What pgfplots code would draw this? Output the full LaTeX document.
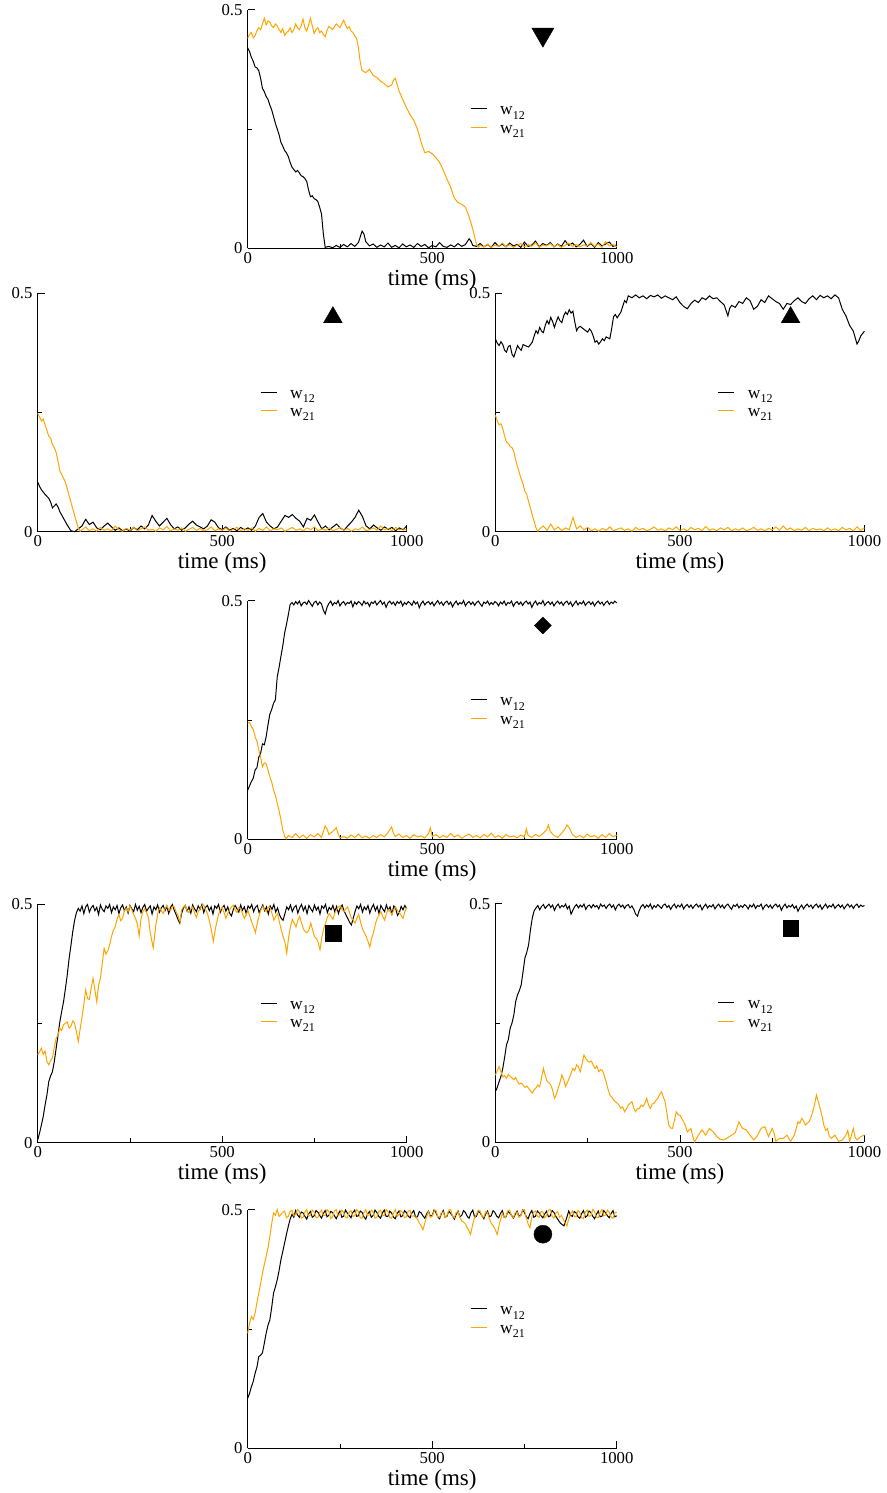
\documentclass[border=0pt]{standalone}
\usepackage{fontspec}
\setmainfont{Liberation Serif}
\usepackage{pgfplots}
\pgfplotsset{compat=1.18}
\definecolor{gorange}{RGB}{255,165,0}
\newcommand\sub[1]{\raisebox{-4.3pt}{\fontsize{12}{12}\selectfont #1}}
\pgfplotsset{
 panel/.style={
  scale only axis, width=369pt, height=238.7pt,
  xmin=0, xmax=1000, ymin=0, ymax=0.5,
  axis lines=left, axis line style={-, line width=1.2pt},
  xtick={0,500,1000}, xticklabels={0,500,1000},
  ytick={0,0.5}, yticklabels={0,0.5},
  minor xtick={250,750}, minor ytick={0.25},
  tick align=inside, major tick length=7pt, minor tick length=4.5pt,
  tick style={line width=0.8pt, black},
  every tick label/.append style={font=\fontsize{16.7}{16.7}\selectfont},
  xticklabel style={anchor=center, inner sep=0pt, yshift=-9.3pt},
  yticklabel style={anchor=east, inner sep=0pt, xshift=-5pt},
  xlabel={time (ms)},
  xlabel style={at={(axis description cs:0.5,0)}, anchor=base, inner sep=0pt, yshift=-36.8pt, font=\fontsize{23}{23}\selectfont},
  clip=false,
  legend style={draw=none, fill=none, at={(0.603,0.6226)}, anchor=north west, inner sep=0pt, outer sep=0pt, row sep=0pt, column sep=13pt, font=\fontsize{17.5}{17.5}\selectfont, nodes={inner sep=0pt, text height=15.2pt, text depth=3.1pt}, cells={anchor=west}},
  legend image code/.code={\draw[##1, line width=1pt] (0pt,0pt) -- (16pt,0pt);},
 },
 k/.style={black, line width=1pt},
 o/.style={gorange, line width=1pt},
 mk/.style={only marks, black, mark options={fill=black, draw=black}, forget plot},
}
\begin{document}
\begin{tikzpicture}
\path[use as bounding box] (0,0) rectangle (886pt,-1493pt);
% ---------------- Panel 1
\begin{axis}[panel, at={(247.7pt,-248.3pt)}, anchor=south west]
\addplot[k] coordinates {(0,.420)(5,.412)(10,.400)(15,.392)(20,.380)(25,.378)(30,.372)(35,.356)(40,.335)(45,.328)(50,.318)(55,.312)(60,.300)(65,.290)(70,.276)(75,.262)(80,.250)(85,.238)(90,.222)(95,.214)(100,.205)(105,.200)(110,.192)(115,.180)(120,.170)(125,.165)(130,.160)(135,.163)(140,.158)(145,.152)(150,.150)(155,.146)(160,.140)(165,.122)(170,.108)(175,.110)(180,.104)(185,.102)(190,.098)(195,.086)(200,.072)(205,.030)(210,.002)(220,.004)(230,.001)(240,.006)(250,.002)(260,.008)(270,.003)(280,.010)(290,.004)(300,.012)(310,.036)(315,.030)(320,.014)(330,.005)(340,.009)(350,.002)(360,.007)(370,.003)(380,.011)(390,.002)(400,.006)(410,.001)(420,.009)(430,.003)(440,.007)(450,.002)(460,.010)(470,.004)(480,.008)(490,.001)(500,.006)(510,.003)(520,.012)(530,.004)(540,.002)(550,.007)(560,.003)(570,.010)(580,.004)(590,.008)(600,.020)(605,.015)(610,.006)(620,.004)(630,.010)(640,.003)(650,.008)(660,.002)(670,.012)(680,.004)(690,.009)(700,.003)(710,.011)(720,.005)(730,.008)(740,.002)(750,.013)(760,.004)(770,.007)(780,.015)(790,.003)(800,.010)(810,.006)(820,.012)(830,.003)(840,.009)(850,.004)(860,.016)(870,.006)(880,.011)(890,.003)(900,.008)(910,.017)(920,.004)(930,.010)(940,.002)(950,.012)(960,.005)(970,.009)(980,.013)(990,.004)(1000,.007)};
\addlegendentry{w\sub{12}}
\addplot[o] coordinates {(0,.440)(5,.448)(10,.452)(15,.441)(20,.445)(25,.456)(30,.462)(35,.458)(40,.470)(45,.482)(50,.468)(55,.476)(60,.474)(65,.466)(70,.462)(75,.470)(80,.466)(85,.458)(90,.452)(95,.460)(100,.446)(105,.452)(110,.455)(115,.462)(120,.452)(125,.458)(130,.470)(135,.462)(140,.458)(145,.466)(150,.480)(155,.462)(160,.455)(165,.468)(170,.482)(175,.466)(180,.450)(185,.458)(190,.462)(195,.452)(200,.455)(205,.448)(210,.443)(215,.456)(220,.465)(225,.462)(230,.458)(235,.464)(240,.470)(245,.466)(250,.462)(255,.470)(260,.478)(265,.468)(270,.460)(275,.464)(280,.455)(285,.452)(290,.445)(295,.440)(300,.420)(305,.390)(310,.372)(320,.368)(330,.375)(340,.362)(350,.358)(360,.350)(370,.345)(380,.338)(390,.342)(395,.352)(400,.356)(410,.330)(420,.312)(430,.295)(440,.280)(450,.268)(460,.250)(470,.222)(480,.200)(490,.203)(500,.198)(510,.190)(520,.180)(530,.164)(540,.145)(550,.128)(560,.105)(570,.096)(580,.092)(590,.086)(600,.066)(610,.040)(620,.008)(625,.002)(630,.006)(640,.003)(650,.009)(660,.002)(670,.007)(680,.004)(690,.011)(700,.003)(710,.008)(720,.002)(730,.006)(740,.010)(750,.003)(760,.008)(770,.004)(780,.012)(790,.002)(800,.007)(810,.005)(820,.010)(830,.003)(840,.008)(850,.002)(860,.006)(870,.011)(880,.004)(890,.008)(900,.003)(910,.007)(920,.005)(930,.012)(940,.004)(950,.009)(960,.002)(970,.014)(980,.005)(990,.008)(1000,.003)};
\addlegendentry{w\sub{21}}
\addplot[mk, mark=triangle*, mark size=12.8pt, mark options={rotate=180}] coordinates {(800,.448)};
\end{axis}
% ---------------- Panel 2
\begin{axis}[panel, at={(37.7pt,-531.7pt)}, anchor=south west]
\addplot[k] coordinates {(0,.104)(5,.095)(10,.088)(20,.078)(30,.070)(35,.062)(40,.050)(50,.058)(55,.052)(60,.042)(70,.028)(80,.014)(90,.002)(100,.000)(110,.006)(120,.012)(130,.026)(140,.015)(150,.020)(160,.008)(170,.004)(180,.012)(190,.018)(200,.010)(210,.003)(220,.008)(230,.002)(240,.006)(250,.001)(260,.009)(270,.004)(280,.012)(290,.006)(300,.014)(310,.034)(320,.022)(330,.012)(340,.020)(350,.028)(360,.015)(370,.006)(380,.010)(390,.003)(400,.008)(410,.016)(420,.022)(430,.014)(440,.010)(450,.006)(460,.012)(470,.025)(480,.020)(490,.008)(500,.004)(510,.010)(520,.003)(530,.007)(540,.002)(550,.009)(560,.004)(570,.008)(580,.003)(590,.012)(600,.030)(610,.038)(620,.020)(630,.012)(640,.006)(650,.010)(660,.022)(670,.034)(680,.030)(690,.036)(700,.028)(710,.022)(720,.010)(730,.028)(740,.024)(750,.035)(760,.020)(770,.006)(780,.012)(790,.004)(800,.010)(810,.016)(820,.008)(830,.003)(840,.012)(850,.020)(860,.030)(870,.045)(880,.032)(890,.012)(900,.006)(910,.014)(920,.008)(930,.003)(940,.010)(950,.005)(960,.009)(970,.002)(980,.008)(990,.004)(1000,.012)};
\addlegendentry{w\sub{12}}
\addplot[o] coordinates {(0,.248)(5,.240)(10,.232)(15,.236)(20,.224)(30,.200)(35,.196)(40,.182)(45,.176)(50,.166)(60,.128)(70,.112)(75,.104)(80,.090)(90,.062)(100,.034)(110,.008)(115,.001)(120,.004)(130,.010)(140,.002)(150,.006)(160,.001)(170,.009)(180,.003)(190,.006)(200,.002)(210,.012)(220,.004)(230,.001)(240,.007)(250,.003)(260,.009)(270,.002)(280,.006)(290,.010)(300,.003)(310,.005)(320,.001)(330,.008)(340,.004)(350,.011)(360,.002)(370,.006)(380,.003)(390,.008)(400,.001)(410,.005)(420,.009)(430,.003)(440,.007)(450,.002)(460,.004)(470,.010)(480,.002)(490,.006)(500,.003)(510,.008)(520,.001)(530,.005)(540,.009)(550,.002)(560,.006)(570,.003)(580,.008)(590,.001)(600,.007)(610,.003)(620,.010)(630,.002)(640,.006)(650,.004)(660,.008)(670,.001)(680,.005)(690,.009)(700,.003)(710,.006)(720,.002)(730,.008)(740,.004)(750,.010)(760,.002)(770,.006)(780,.003)(790,.008)(800,.002)(810,.005)(820,.009)(830,.003)(840,.007)(850,.001)(860,.006)(870,.004)(880,.010)(890,.002)(900,.005)(910,.008)(920,.003)(930,.012)(940,.004)(950,.007)(960,.002)(970,.009)(980,.004)(990,.006)(1000,.003)};
\addlegendentry{w\sub{21}}
\addplot[mk, mark=triangle*, mark size=10.8pt] coordinates {(800,.449)};
\end{axis}
% ---------------- Panel 3
\begin{axis}[panel, at={(495.4pt,-531.7pt)}, anchor=south west]
\addplot[k] coordinates {(0,.404)(5,.395)(10,.390)(15,.398)(20,.392)(25,.380)(30,.376)(35,.388)(40,.390)(45,.372)(50,.366)(55,.378)(60,.390)(65,.384)(70,.380)(75,.392)(80,.390)(90,.387)(100,.397)(105,.410)(110,.421)(115,.415)(120,.428)(125,.420)(130,.417)(135,.432)(140,.442)(145,.435)(150,.449)(155,.440)(160,.428)(165,.440)(170,.450)(175,.442)(180,.438)(185,.452)(190,.460)(195,.455)(200,.465)(205,.458)(210,.462)(215,.440)(220,.421)(225,.428)(230,.430)(240,.424)(250,.418)(255,.425)(260,.420)(265,.410)(270,.397)(275,.400)(280,.393)(285,.398)(290,.404)(295,.400)(300,.408)(310,.404)(315,.425)(320,.450)(325,.455)(330,.448)(340,.460)(345,.472)(350,.484)(355,.480)(360,.494)(370,.490)(380,.496)(390,.490)(400,.494)(410,.488)(420,.495)(430,.492)(440,.496)(450,.489)(460,.494)(470,.490)(480,.486)(490,.492)(500,.480)(510,.472)(520,.467)(530,.478)(540,.485)(550,.480)(560,.490)(570,.486)(580,.494)(590,.488)(600,.490)(610,.482)(620,.475)(630,.452)(635,.468)(640,.474)(650,.470)(660,.482)(670,.478)(680,.490)(690,.484)(700,.466)(710,.472)(720,.486)(730,.480)(740,.494)(750,.488)(760,.482)(770,.478)(780,.466)(790,.478)(800,.476)(810,.484)(820,.490)(830,.482)(840,.478)(850,.488)(860,.494)(870,.486)(880,.495)(890,.490)(900,.494)(910,.488)(920,.496)(930,.490)(940,.466)(950,.452)(960,.432)(970,.420)(980,.393)(985,.400)(990,.410)(1000,.420)};
\addlegendentry{w\sub{12}}
\addplot[o] coordinates {(0,.244)(5,.232)(10,.224)(15,.226)(20,.216)(25,.200)(30,.188)(35,.185)(40,.178)(45,.176)(50,.168)(55,.150)(60,.136)(70,.110)(75,.100)(80,.084)(85,.078)(90,.063)(100,.035)(110,.008)(115,.001)(120,.006)(130,.012)(140,.003)(150,.016)(160,.004)(170,.010)(180,.002)(190,.008)(200,.004)(210,.030)(215,.018)(220,.006)(230,.012)(240,.004)(250,.009)(260,.002)(270,.006)(280,.001)(290,.007)(300,.003)(310,.010)(320,.002)(330,.005)(340,.008)(350,.003)(360,.006)(370,.001)(380,.009)(390,.004)(400,.007)(410,.002)(420,.005)(430,.010)(440,.003)(450,.006)(460,.002)(470,.008)(480,.004)(490,.010)(500,.003)(510,.006)(520,.002)(530,.009)(540,.004)(550,.007)(560,.002)(570,.011)(580,.003)(590,.006)(600,.002)(610,.008)(620,.004)(630,.009)(640,.002)(650,.006)(660,.003)(670,.008)(680,.002)(690,.005)(700,.009)(710,.003)(720,.006)(730,.002)(740,.007)(750,.004)(760,.010)(770,.003)(780,.012)(790,.004)(800,.008)(810,.002)(820,.006)(830,.003)(840,.009)(850,.002)(860,.007)(870,.004)(880,.006)(890,.002)(900,.008)(910,.003)(920,.006)(930,.002)(940,.009)(950,.004)(960,.007)(970,.002)(980,.010)(990,.003)(1000,.008)};
\addlegendentry{w\sub{21}}
\addplot[mk, mark=triangle*, mark size=10.8pt] coordinates {(800,.449)};
\end{axis}
% ---------------- Panel 4
\begin{axis}[panel, at={(247.7pt,-839.3pt)}, anchor=south west]
\addplot[k] coordinates {(0,.103)(5,.112)(10,.121)(15,.128)(20,.145)(25,.150)(30,.172)(35,.180)(40,.200)(45,.198)(50,.215)(55,.240)(60,.262)(65,.272)(70,.285)(75,.292)(80,.340)(85,.360)(90,.383)(95,.405)(100,.432)(105,.450)(110,.470)(115,.492)(120,.496)(125,.491)(130,.498)(135,.493)(140,.499)(145,.489)(150,.495)(155,.497)(160,.492)(165,.500)(170,.494)(175,.488)(180,.496)(185,.499)(190,.491)(195,.497)(200,.493)(205,.480)(210,.472)(215,.486)(220,.494)(225,.499)(230,.490)(235,.496)(240,.493)(245,.500)(250,.489)(255,.495)(260,.498)(265,.491)(270,.496)(275,.494)(280,.499)(285,.487)(290,.497)(295,.492)(300,.498)(305,.495)(310,.490)(315,.499)(320,.493)(325,.496)(330,.488)(335,.497)(340,.494)(345,.499)(350,.491)(355,.496)(360,.500)(365,.492)(370,.497)(375,.486)(380,.495)(385,.499)(390,.493)(395,.497)(400,.490)(405,.498)(410,.494)(415,.499)(420,.489)(425,.496)(430,.492)(435,.498)(440,.495)(445,.490)(450,.499)(455,.493)(460,.497)(465,.485)(470,.494)(475,.499)(480,.491)(485,.496)(490,.498)(495,.492)(500,.497)(505,.489)(510,.495)(515,.500)(520,.493)(525,.497)(530,.490)(535,.496)(540,.499)(545,.492)(550,.497)(555,.487)(560,.494)(565,.499)(570,.491)(575,.496)(580,.493)(585,.500)(590,.489)(595,.495)(600,.498)(605,.492)(610,.497)(615,.490)(620,.496)(625,.499)(630,.493)(635,.488)(640,.497)(645,.494)(650,.499)(655,.491)(660,.496)(665,.492)(670,.498)(675,.495)(680,.489)(685,.497)(690,.493)(695,.499)(700,.490)(705,.496)(710,.494)(715,.499)(720,.488)(725,.495)(730,.498)(735,.492)(740,.497)(745,.490)(750,.496)(755,.499)(760,.493)(765,.497)(770,.486)(775,.494)(780,.499)(785,.491)(790,.496)(795,.493)(800,.500)(805,.490)(810,.495)(815,.498)(820,.492)(825,.497)(830,.489)(835,.495)(840,.499)(845,.493)(850,.497)(855,.490)(860,.496)(865,.499)(870,.492)(875,.497)(880,.488)(885,.494)(890,.499)(895,.491)(900,.496)(905,.493)(910,.499)(915,.490)(920,.495)(925,.498)(930,.492)(935,.497)(940,.489)(945,.495)(950,.499)(955,.493)(960,.497)(965,.490)(970,.496)(975,.499)(980,.492)(985,.497)(990,.494)(995,.499)(1000,.495)};
\addlegendentry{w\sub{12}}
\addplot[o] coordinates {(0,.243)(5,.245)(10,.236)(15,.230)(20,.215)(25,.205)(30,.187)(35,.172)(40,.152)(45,.160)(50,.158)(55,.145)(60,.131)(65,.120)(70,.103)(75,.092)(80,.076)(85,.060)(90,.041)(95,.020)(100,.006)(105,.001)(110,.008)(120,.004)(130,.012)(140,.003)(150,.009)(160,.002)(170,.010)(180,.005)(190,.012)(200,.004)(210,.028)(215,.022)(220,.010)(230,.016)(240,.024)(245,.012)(250,.003)(260,.006)(270,.002)(280,.009)(290,.004)(300,.011)(310,.003)(320,.007)(330,.002)(340,.008)(350,.004)(360,.010)(370,.005)(380,.014)(390,.026)(395,.012)(400,.006)(410,.011)(420,.004)(430,.008)(440,.002)(450,.010)(460,.005)(470,.007)(480,.003)(490,.012)(495,.024)(500,.006)(510,.010)(520,.003)(530,.008)(540,.004)(550,.012)(560,.005)(570,.009)(580,.002)(590,.007)(600,.011)(610,.004)(620,.008)(630,.003)(640,.010)(650,.005)(660,.013)(670,.004)(680,.008)(690,.002)(700,.010)(710,.005)(720,.007)(730,.003)(740,.009)(750,.005)(755,.022)(760,.008)(770,.004)(780,.010)(790,.006)(800,.012)(810,.020)(815,.030)(820,.016)(830,.008)(840,.004)(850,.012)(860,.022)(865,.030)(870,.026)(880,.010)(890,.004)(900,.008)(910,.003)(920,.011)(930,.005)(940,.008)(950,.002)(960,.010)(970,.004)(980,.012)(990,.005)(1000,.009)};
\addlegendentry{w\sub{21}}
\addplot[mk, mark=square*, mark size=6pt, mark options={rotate=45}] coordinates {(800,.448)};
\end{axis}
% ---------------- Panel 5
\begin{axis}[panel, at={(37.7pt,-1142.7pt)}, anchor=south west]
\addplot[k] coordinates {(0,.006)(5,.020)(10,.037)(15,.055)(20,.079)(25,.100)(30,.128)(35,.140)(40,.149)(45,.170)(50,.198)(55,.225)(60,.253)(65,.275)(70,.295)(75,.322)(80,.351)(85,.385)(90,.413)(95,.442)(100,.466)(105,.482)(110,.491)(115,.485)(120,.496)(125,.480)(130,.494)(135,.499)(140,.483)(145,.492)(150,.497)(155,.486)(160,.493)(165,.478)(170,.498)(175,.489)(180,.484)(185,.496)(190,.491)(195,.499)(200,.482)(205,.494)(210,.488)(215,.497)(220,.480)(225,.492)(230,.498)(235,.486)(240,.494)(245,.481)(250,.497)(255,.490)(260,.484)(265,.499)(270,.487)(275,.495)(280,.482)(285,.493)(290,.499)(295,.485)(300,.491)(305,.496)(310,.479)(315,.494)(320,.488)(325,.498)(330,.483)(335,.492)(340,.497)(345,.486)(350,.495)(355,.480)(360,.493)(365,.499)(370,.487)(375,.478)(380,.468)(385,.460)(390,.480)(395,.492)(400,.497)(405,.485)(410,.494)(415,.481)(420,.498)(425,.490)(430,.484)(435,.496)(440,.489)(445,.499)(450,.482)(455,.493)(460,.497)(465,.486)(470,.494)(475,.479)(480,.496)(485,.491)(490,.499)(495,.483)(500,.492)(505,.497)(510,.485)(515,.494)(520,.481)(525,.475)(530,.488)(535,.497)(540,.490)(545,.483)(550,.498)(555,.487)(560,.494)(565,.480)(570,.496)(575,.491)(580,.499)(585,.484)(590,.493)(595,.497)(600,.482)(605,.490)(610,.498)(615,.486)(620,.494)(625,.479)(630,.496)(635,.489)(640,.499)(645,.483)(650,.492)(655,.478)(660,.470)(665,.466)(670,.480)(675,.494)(680,.488)(685,.498)(690,.484)(695,.493)(700,.497)(705,.481)(710,.492)(715,.499)(720,.486)(725,.495)(730,.480)(735,.497)(740,.490)(745,.484)(750,.498)(755,.487)(760,.494)(765,.479)(770,.496)(775,.491)(780,.499)(785,.482)(790,.493)(795,.488)(800,.497)(805,.484)(810,.495)(815,.480)(820,.492)(825,.498)(830,.486)(835,.478)(840,.470)(845,.462)(850,.456)(855,.470)(860,.484)(865,.496)(870,.490)(875,.499)(880,.483)(885,.494)(890,.488)(895,.497)(900,.481)(905,.492)(910,.499)(915,.486)(920,.495)(925,.480)(930,.497)(935,.490)(940,.484)(945,.498)(950,.487)(955,.494)(960,.479)(965,.496)(970,.491)(975,.476)(980,.482)(985,.495)(990,.488)(995,.497)(1000,.490)};
\addlegendentry{w\sub{12}}
\addplot[o] coordinates {(0,.184)(5,.190)(10,.198)(15,.185)(20,.192)(25,.170)(30,.163)(35,.172)(40,.178)(45,.200)(50,.219)(55,.225)(60,.240)(65,.235)(70,.247)(75,.250)(80,.253)(85,.240)(90,.244)(95,.255)(100,.250)(105,.232)(110,.212)(115,.238)(120,.262)(125,.290)(130,.320)(135,.302)(140,.300)(145,.325)(150,.344)(155,.320)(160,.295)(165,.330)(170,.345)(175,.375)(180,.407)(185,.395)(190,.402)(195,.415)(200,.432)(205,.445)(210,.452)(215,.468)(220,.478)(225,.465)(230,.470)(235,.486)(240,.491)(245,.484)(250,.496)(255,.488)(260,.478)(265,.470)(270,.458)(275,.433)(280,.470)(285,.484)(290,.490)(295,.482)(300,.472)(305,.440)(313,.408)(320,.455)(325,.478)(330,.492)(335,.486)(340,.480)(345,.490)(350,.497)(355,.488)(360,.486)(365,.495)(370,.494)(375,.484)(380,.476)(386,.462)(390,.488)(395,.494)(400,.497)(405,.486)(410,.482)(415,.490)(420,.494)(425,.481)(430,.472)(435,.484)(440,.490)(445,.496)(450,.498)(455,.488)(460,.480)(465,.466)(470,.448)(476,.422)(482,.450)(490,.478)(495,.488)(500,.493)(505,.482)(510,.470)(515,.480)(520,.488)(525,.494)(530,.497)(535,.488)(540,.482)(545,.492)(550,.490)(555,.480)(560,.470)(565,.478)(570,.486)(575,.474)(580,.462)(585,.452)(590,.440)(595,.460)(600,.475)(605,.488)(610,.495)(615,.488)(620,.484)(625,.494)(630,.492)(635,.480)(640,.466)(645,.474)(650,.480)(655,.462)(660,.446)(665,.432)(670,.420)(675,.397)(680,.430)(685,.452)(690,.468)(695,.460)(700,.452)(705,.466)(710,.474)(715,.460)(720,.448)(725,.442)(730,.440)(735,.445)(740,.460)(745,.446)(750,.432)(755,.428)(760,.420)(765,.404)(770,.430)(775,.448)(780,.460)(785,.472)(790,.480)(795,.474)(800,.468)(805,.480)(810,.488)(815,.494)(820,.496)(825,.488)(830,.484)(835,.490)(840,.494)(845,.482)(850,.470)(855,.466)(860,.460)(865,.470)(870,.478)(875,.462)(880,.448)(885,.440)(890,.432)(895,.422)(900,.410)(905,.428)(910,.440)(915,.458)(920,.470)(925,.478)(930,.484)(935,.474)(940,.466)(945,.480)(950,.488)(955,.484)(960,.478)(965,.488)(970,.494)(975,.486)(980,.482)(985,.476)(990,.470)(995,.484)(1000,.492)};
\addlegendentry{w\sub{21}}
\addplot[mk, mark=square*, mark size=8pt] coordinates {(800,.438)};
\end{axis}
% ---------------- Panel 6
\begin{axis}[panel, at={(495.4pt,-1142.3pt)}, anchor=south west]
\addplot[k] coordinates {(0,.106)(5,.115)(10,.127)(15,.138)(20,.155)(25,.178)(30,.204)(35,.215)(40,.239)(45,.250)(50,.267)(55,.295)(60,.309)(65,.318)(70,.330)(75,.358)(80,.386)(85,.398)(90,.414)(95,.445)(100,.470)(105,.485)(110,.491)(115,.496)(120,.487)(125,.494)(130,.498)(135,.490)(140,.495)(145,.499)(150,.492)(155,.497)(160,.486)(165,.494)(170,.499)(175,.491)(180,.496)(185,.493)(190,.499)(195,.489)(200,.495)(205,.478)(210,.486)(215,.494)(220,.498)(225,.491)(230,.497)(235,.493)(240,.499)(245,.488)(250,.495)(255,.497)(260,.491)(265,.498)(270,.493)(275,.496)(280,.489)(285,.499)(290,.494)(295,.497)(300,.490)(305,.496)(310,.499)(315,.492)(320,.497)(325,.487)(330,.495)(335,.499)(340,.493)(345,.497)(350,.490)(355,.496)(360,.498)(365,.491)(370,.495)(375,.488)(380,.478)(385,.474)(390,.486)(395,.494)(400,.498)(405,.491)(410,.497)(415,.493)(420,.499)(425,.489)(430,.496)(435,.492)(440,.498)(445,.494)(450,.490)(455,.497)(460,.499)(465,.492)(470,.496)(475,.488)(480,.495)(485,.499)(490,.491)(495,.497)(500,.493)(505,.499)(510,.489)(515,.495)(520,.498)(525,.492)(530,.497)(535,.490)(540,.496)(545,.499)(550,.493)(555,.497)(560,.487)(565,.494)(570,.499)(575,.491)(580,.496)(585,.493)(590,.498)(595,.489)(600,.495)(605,.499)(610,.492)(615,.497)(620,.490)(625,.496)(630,.499)(635,.493)(640,.488)(645,.497)(650,.494)(655,.499)(660,.491)(665,.496)(670,.492)(675,.498)(680,.495)(685,.489)(690,.497)(695,.493)(700,.499)(705,.490)(710,.496)(715,.494)(720,.499)(725,.488)(730,.495)(735,.498)(740,.492)(745,.497)(750,.490)(755,.496)(760,.499)(765,.493)(770,.497)(775,.486)(780,.494)(785,.499)(790,.491)(795,.496)(800,.493)(805,.498)(810,.490)(815,.495)(820,.484)(825,.492)(830,.497)(835,.489)(840,.495)(845,.499)(850,.493)(855,.497)(860,.490)(865,.496)(870,.499)(875,.492)(880,.497)(885,.488)(890,.494)(895,.499)(900,.491)(905,.496)(910,.493)(915,.499)(920,.490)(925,.495)(930,.498)(935,.492)(940,.497)(945,.489)(950,.495)(955,.499)(960,.493)(965,.497)(970,.490)(975,.496)(980,.499)(985,.492)(990,.497)(995,.494)(1000,.496)};
\addlegendentry{w\sub{12}}
\addplot[o] coordinates {(0,.141)(5,.150)(10,.159)(15,.148)(20,.137)(25,.140)(30,.134)(35,.142)(40,.138)(45,.135)(50,.131)(55,.136)(60,.127)(65,.122)(70,.124)(75,.120)(80,.115)(85,.118)(90,.113)(95,.108)(100,.103)(105,.110)(110,.114)(115,.120)(120,.116)(125,.135)(130,.155)(135,.140)(140,.128)(145,.125)(150,.120)(155,.110)(160,.092)(165,.100)(170,.113)(175,.125)(180,.141)(185,.132)(190,.117)(195,.125)(200,.134)(205,.145)(210,.155)(215,.150)(220,.162)(225,.158)(230,.148)(235,.165)(240,.183)(245,.176)(250,.170)(255,.168)(260,.170)(265,.162)(270,.155)(275,.160)(280,.148)(285,.152)(290,.151)(295,.140)(300,.127)(305,.112)(310,.099)(315,.095)(320,.089)(325,.085)(330,.082)(335,.078)(340,.071)(345,.074)(350,.064)(355,.070)(360,.078)(365,.082)(370,.085)(375,.072)(380,.064)(385,.070)(390,.071)(395,.078)(400,.075)(405,.082)(410,.092)(415,.078)(420,.071)(425,.080)(430,.082)(435,.088)(440,.092)(445,.100)(450,.106)(455,.095)(460,.085)(465,.060)(470,.036)(475,.030)(480,.029)(485,.045)(490,.064)(495,.058)(500,.057)(505,.050)(510,.043)(515,.035)(520,.022)(525,.026)(530,.029)(535,.012)(540,.001)(550,.015)(560,.026)(570,.015)(575,.022)(580,.029)(590,.022)(600,.012)(610,.006)(620,.005)(630,.010)(640,.015)(650,.020)(660,.043)(665,.035)(670,.029)(680,.026)(690,.015)(700,.005)(710,.014)(720,.029)(730,.033)(740,.012)(750,.029)(755,.020)(760,.002)(770,.008)(780,.008)(790,.015)(800,.002)(810,.015)(820,.043)(825,.040)(830,.050)(835,.045)(840,.036)(845,.040)(850,.043)(855,.052)(860,.064)(865,.080)(870,.099)(875,.085)(880,.071)(885,.055)(890,.036)(895,.025)(900,.029)(905,.012)(910,.008)(920,.015)(930,.002)(940,.005)(950,.015)(955,.025)(960,.002)(970,.029)(975,.010)(980,.005)(990,.012)(1000,.015)};
\addlegendentry{w\sub{21}}
\addplot[mk, mark=square*, mark size=7.8pt] coordinates {(800,.4485)};
\end{axis}
% ---------------- Panel 7
\begin{axis}[panel, at={(247.7pt,-1448.3pt)}, anchor=south west]
\addplot[k] coordinates {(0,.105)(5,.115)(10,.129)(15,.140)(20,.157)(25,.170)(30,.192)(35,.195)(40,.200)(45,.220)(50,.241)(55,.258)(60,.269)(65,.295)(70,.325)(75,.338)(80,.353)(85,.372)(90,.395)(95,.412)(100,.430)(105,.448)(110,.465)(115,.480)(120,.490)(125,.484)(130,.498)(135,.489)(140,.484)(145,.495)(150,.493)(155,.486)(160,.480)(165,.491)(170,.496)(175,.484)(180,.487)(185,.498)(190,.495)(195,.488)(200,.482)(205,.492)(210,.498)(215,.485)(220,.488)(225,.496)(230,.494)(235,.487)(240,.481)(245,.490)(250,.497)(255,.484)(260,.486)(265,.499)(270,.493)(275,.488)(280,.483)(285,.494)(290,.499)(295,.486)(300,.487)(305,.497)(310,.494)(315,.485)(320,.480)(325,.491)(330,.496)(335,.484)(340,.488)(345,.499)(350,.494)(355,.486)(360,.482)(365,.493)(370,.499)(375,.486)(380,.486)(385,.497)(390,.493)(395,.484)(400,.481)(405,.492)(410,.497)(415,.485)(420,.487)(425,.498)(430,.494)(435,.486)(440,.483)(445,.493)(450,.498)(455,.484)(460,.485)(465,.496)(470,.493)(475,.487)(480,.482)(485,.491)(490,.497)(495,.486)(500,.488)(505,.499)(510,.494)(515,.485)(520,.481)(525,.492)(530,.498)(535,.484)(540,.486)(545,.497)(550,.492)(555,.487)(560,.480)(565,.490)(570,.497)(575,.485)(580,.488)(585,.498)(590,.494)(595,.486)(600,.482)(605,.493)(610,.499)(615,.484)(620,.486)(625,.497)(630,.493)(635,.487)(640,.481)(645,.491)(650,.497)(655,.485)(660,.487)(665,.498)(670,.494)(675,.486)(680,.483)(685,.492)(690,.498)(695,.484)(700,.485)(705,.496)(710,.493)(715,.488)(720,.482)(725,.490)(730,.497)(735,.486)(740,.488)(745,.499)(750,.494)(755,.485)(760,.481)(765,.492)(770,.498)(775,.484)(780,.486)(785,.497)(790,.493)(795,.487)(800,.483)(805,.491)(810,.497)(815,.485)(820,.487)(825,.498)(830,.494)(835,.486)(840,.480)(845,.474)(850,.470)(857,.466)(865,.484)(870,.497)(875,.488)(880,.486)(885,.496)(890,.493)(895,.485)(900,.482)(905,.492)(910,.498)(915,.484)(920,.487)(925,.497)(930,.494)(935,.486)(940,.481)(945,.490)(950,.497)(955,.485)(960,.486)(965,.498)(970,.493)(975,.487)(980,.483)(985,.492)(990,.498)(995,.485)(1000,.487)};
\addlegendentry{w\sub{12}}
\addplot[o] coordinates {(0,.241)(5,.262)(10,.276)(15,.270)(20,.283)(25,.305)(30,.325)(35,.345)(40,.367)(45,.385)(50,.402)(55,.420)(60,.444)(65,.470)(70,.493)(75,.488)(80,.500)(85,.486)(90,.490)(95,.494)(100,.497)(105,.483)(110,.486)(115,.496)(120,.499)(125,.487)(130,.490)(135,.500)(140,.496)(145,.482)(150,.484)(155,.495)(160,.500)(165,.486)(170,.489)(175,.499)(180,.495)(185,.484)(190,.483)(195,.494)(200,.499)(205,.488)(210,.488)(215,.500)(220,.496)(225,.481)(230,.485)(235,.497)(240,.500)(245,.487)(250,.490)(255,.499)(260,.494)(265,.484)(270,.483)(275,.495)(280,.498)(285,.486)(290,.487)(295,.500)(300,.496)(305,.483)(310,.482)(315,.494)(320,.500)(325,.488)(330,.489)(335,.499)(340,.495)(345,.482)(350,.484)(355,.496)(360,.499)(365,.487)(370,.488)(375,.500)(380,.496)(385,.484)(390,.482)(395,.493)(400,.500)(405,.486)(410,.490)(415,.498)(420,.494)(425,.483)(430,.485)(435,.497)(440,.498)(445,.486)(450,.487)(455,.484)(460,.480)(465,.472)(470,.466)(475,.458)(480,.472)(485,.486)(490,.496)(495,.484)(500,.486)(505,.497)(510,.499)(515,.485)(520,.484)(525,.494)(530,.495)(535,.483)(540,.488)(545,.499)(550,.500)(555,.486)(560,.483)(565,.494)(570,.496)(575,.484)(580,.476)(585,.474)(590,.470)(595,.462)(600,.455)(604,.448)(610,.470)(615,.484)(620,.490)(625,.499)(630,.497)(635,.485)(640,.484)(645,.496)(650,.494)(655,.480)(660,.472)(665,.466)(670,.460)(676,.448)(682,.470)(690,.492)(695,.484)(700,.486)(705,.498)(710,.499)(715,.486)(720,.483)(725,.494)(730,.495)(735,.484)(740,.487)(745,.499)(750,.500)(755,.482)(760,.470)(765,.462)(770,.485)(775,.495)(780,.497)(785,.486)(790,.484)(795,.496)(800,.495)(805,.483)(810,.488)(815,.499)(820,.500)(825,.486)(830,.482)(835,.493)(840,.496)(845,.484)(850,.488)(855,.480)(860,.472)(865,.466)(870,.480)(875,.492)(880,.497)(885,.486)(890,.485)(895,.498)(900,.494)(905,.483)(910,.481)(915,.495)(920,.499)(925,.486)(930,.487)(935,.500)(940,.496)(945,.484)(950,.483)(955,.494)(960,.500)(965,.487)(970,.489)(975,.499)(980,.494)(985,.484)(990,.482)(995,.493)(1000,.495)};
\addlegendentry{w\sub{21}}
\addplot[mk, mark=*, mark size=9pt] coordinates {(800,.4485)};
\end{axis}
\end{tikzpicture}
\end{document}
